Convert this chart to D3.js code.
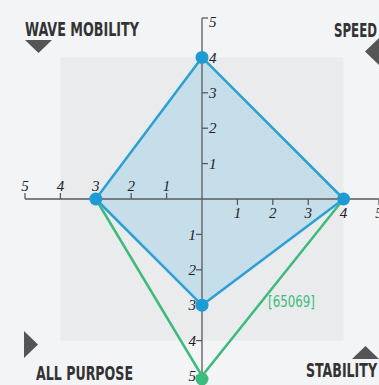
<!DOCTYPE html>
<html>
<head>
<meta charset="utf-8">
<script src="https://cdn.jsdelivr.net/npm/d3@7"></script>
<style>
  html, body { margin: 0; padding: 0; background: #f3f4f6; }
  svg { display: block; }
  .tick-label { font-family: "Liberation Serif", serif; font-style: italic; font-size: 15px; fill: #222; }
  .corner { font-family: "Liberation Sans Narrow", "DejaVu Sans Condensed", sans-serif; font-weight: bold; font-size: 20px; fill: #333; }
</style>
</head>
<body>
<svg width="379" height="385"></svg>
<script>
// axes in drawing order: up, right, down, left
const axes = ["up", "right", "down", "left"];
const ticks = [1, 2, 3, 4, 5];
const blueValues = [4, 4, 3, 3];
// green series has no value on the up axis
const greenAxes = ["left", "down", "right"];
const greenValues = [3, 5, 4];
const greenLabel = "[65069]";
const cornerLabels = ["WAVE MOBILITY", "SPEED", "ALL PURPOSE", "STABILITY"];

const svg = d3.select("svg");
const cx = 202, cy = 199;
const r = d3.scaleLinear().domain([0, 5]).range([0, 177]);

const dir = {
  up: [0, -1],
  right: [1, 0],
  down: [0, 1],
  left: [-1, 0]
};
function pt(axis, v) {
  const d = dir[axis];
  return [cx + d[0] * r(v), cy + d[1] * r(v)];
}

// inner grey square up to 4
svg.append("rect")
  .attr("x", cx - r(4))
  .attr("y", cy - r(4))
  .attr("width", r(4) * 2)
  .attr("height", r(4) * 2)
  .attr("fill", "#eaebed");

// blue area
const blue = axes.map((a, i) => pt(a, blueValues[i]));
svg.append("path")
  .attr("d", d3.line()(blue) + "Z")
  .attr("fill", "#c6dee9")
  .attr("stroke", "none");

// axes
const axisG = svg.append("g")
  .attr("stroke", "#5a5a5a")
  .attr("stroke-width", 1.3);
axisG.append("line")
  .attr("x1", cx).attr("x2", cx)
  .attr("y1", cy - r(5) - 4).attr("y2", cy + r(5));
axisG.append("line")
  .attr("x1", cx - r(5)).attr("x2", 379)
  .attr("y1", cy).attr("y2", cy);

// tick marks + labels
const tl = svg.append("g");
ticks.forEach(t => {
  // up: tick right, label right
  let y = cy - r(t);
  if (t === 5) y -= 4;
  axisG.append("line").attr("x1", cx).attr("x2", cx + 6).attr("y1", y).attr("y2", y);
  tl.append("text").attr("class", "tick-label")
    .attr("x", cx + 7).attr("y", cy - r(t)).attr("dy", "0.35em").text(t);
  // down: tick left, label left
  y = cy + r(t);
  axisG.append("line").attr("x1", cx - 6).attr("x2", cx).attr("y1", y).attr("y2", y);
  tl.append("text").attr("class", "tick-label")
    .attr("x", cx - 6).attr("y", y).attr("dy", "0.35em")
    .attr("text-anchor", "end").text(t);
  // left: tick up, label above
  let x = cx - r(t);
  axisG.append("line").attr("x1", x).attr("x2", x).attr("y1", cy - 6).attr("y2", cy);
  tl.append("text").attr("class", "tick-label")
    .attr("x", x).attr("y", cy - 8).attr("text-anchor", "middle").text(t);
  // right: tick down, label below
  x = cx + r(t);
  axisG.append("line").attr("x1", x).attr("x2", x).attr("y1", cy).attr("y2", cy + 6);
  tl.append("text").attr("class", "tick-label")
    .attr("x", x).attr("y", cy + 19).attr("text-anchor", "middle").text(t);
});

// blue outline
svg.append("path")
  .attr("d", d3.line()(blue) + "Z")
  .attr("fill", "none")
  .attr("stroke", "#2aa0d3")
  .attr("stroke-width", 2.5)
  .attr("stroke-linejoin", "round");

// green line
const green = greenAxes.map((a, i) => pt(a, greenValues[i]));
svg.append("path")
  .attr("d", d3.line()(green))
  .attr("fill", "none")
  .attr("stroke", "#3dbb7c")
  .attr("stroke-width", 2.5);

// dots
svg.selectAll(".bdot")
  .data(blue)
  .enter()
  .append("circle")
  .attr("class", "bdot")
  .attr("cx", d => d[0]).attr("cy", d => d[1])
  .attr("r", 6.5)
  .attr("fill", "#1f9bd4");

svg.append("circle")
  .attr("cx", pt("down", 5)[0]).attr("cy", pt("down", 5)[1] + 3)
  .attr("r", 6.5)
  .attr("fill", "#3dbb7c");

svg.append("text")
  .attr("class", "corner")
  .attr("x", 268).attr("y", 307)
  .attr("textLength", 47).attr("lengthAdjust", "spacingAndGlyphs")
  .style("font-size", "16px").style("font-weight", "normal")
  .style("fill", "#3dbb7c")
  .text(greenLabel);

// corner labels
const corners = [
  {x: 25, y: 36, w: 114, tri: [[25, 40], [52, 40], [38.5, 53]]},
  {x: 334, y: 37, w: 43, tri: [[379, 38], [379, 65], [365, 51.5]]},
  {x: 36, y: 380, w: 97, tri: [[24, 331], [24, 358], [38, 344.5]]},
  {x: 306, y: 377, w: 71, tri: [[352, 359], [379, 359], [365.5, 346]]}
];
corners.forEach((c, i) => {
  svg.append("text")
    .attr("class", "corner")
    .attr("x", c.x).attr("y", c.y)
    .attr("textLength", c.w).attr("lengthAdjust", "spacingAndGlyphs")
    .text(cornerLabels[i]);
  svg.append("path")
    .attr("d", d3.line()(c.tri) + "Z")
    .attr("fill", "#555");
});
</script>
</body>
</html>
